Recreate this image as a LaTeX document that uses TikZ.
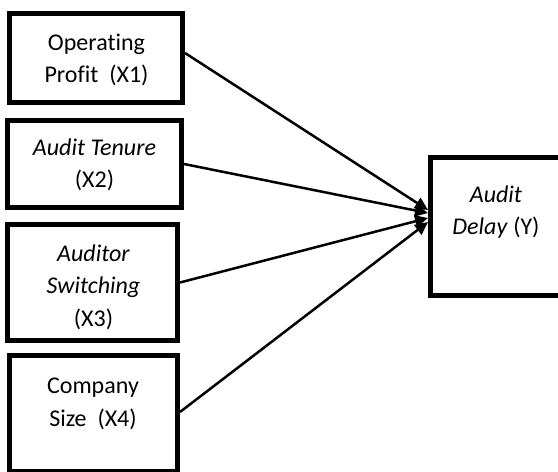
\documentclass[tikz,border=0pt]{standalone}
\usepackage{fontspec}
\setmainfont{Carlito}[Ligatures={NoCommon}]
\usetikzlibrary{arrows.meta}
\begin{document}
\begin{tikzpicture}[x=1pt,y=-1pt,
  varbox/.style={draw=black, line width=5pt, inner sep=0pt},
  varlabel/.style={anchor=base, inner sep=0pt, text width=160pt,
    align=flush center, font=\fontsize{24}{32.5}\selectfont},
  path/.style={draw=black, line width=2.5pt,
    -{Triangle[length=13pt,width=12pt]}}]
  \useasboundingbox (0,0) rectangle (558,472);
  \clip (0,0) rectangle (558,472);
  % independent variables
  \node[varbox, minimum width=173pt, minimum height=89pt] (x1) at (96,58) {};
  \node[varbox, minimum width=174pt, minimum height=87pt] (x2) at (94.5,164) {};
  \node[varbox, minimum width=170pt, minimum height=116pt] (x3) at (92.5,282.5) {};
  \node[varbox, minimum width=168pt, minimum height=116pt] (x4) at (93.5,413.5) {};
  % dependent variable
  \node[varbox, minimum width=131pt, minimum height=138pt] (y) at (496,226.5) {};
  % labels (anchored at the baseline of the first line)
  \node[varlabel] (x1t) at (96.5,50) {Operating\\Profit\ \ (X1)};
  \node[varlabel] (x2t) at (94.5,155) {\textit{Audit Tenure}\\(X2)};
  \node[varlabel] (x3t) at (93.5,261) {\textit{Auditor}\\\textit{Switching}\\(X3)};
  \node[varlabel] (x4t) at (93,393.5) {Company\\Size\ \ (X4)};
  \node[varlabel] (yt) at (496,202) {\textit{Audit}\\\textit{Delay} (Y)};
  % regression paths
  \draw[path] ([yshift=5pt]x1.east) -- ([yshift=16.5pt]y.west);
  \draw[path] (x2.east) -- ([yshift=13.5pt]y.west);
  \draw[path] (x3.east) -- ([yshift=8.5pt]y.west);
  \draw[path] ([yshift=1.5pt]x4.east) -- ([yshift=4.5pt]y.west);
\end{tikzpicture}
\end{document}
